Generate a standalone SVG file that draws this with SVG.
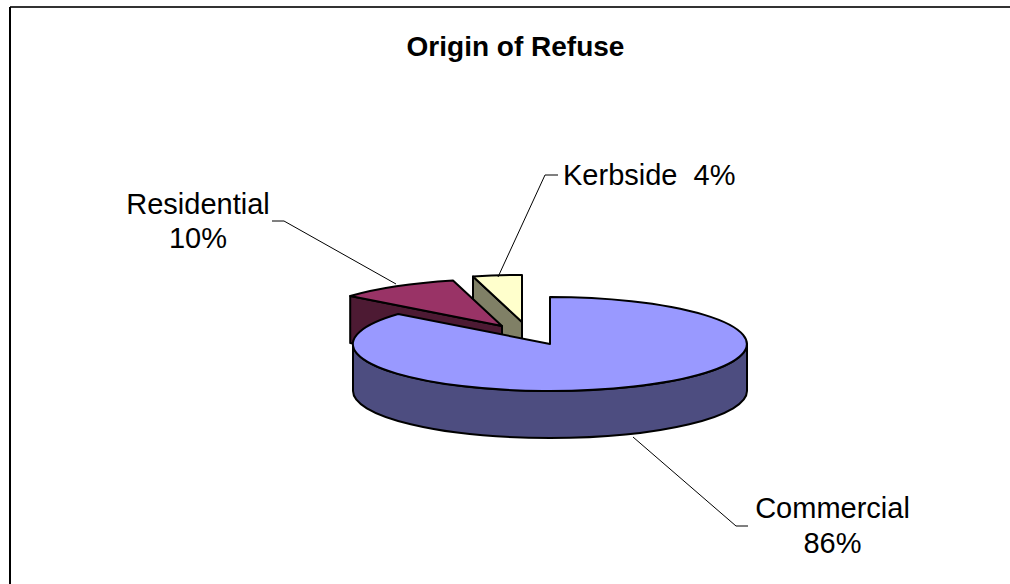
<svg xmlns="http://www.w3.org/2000/svg" width="1010" height="584" viewBox="0 0 1010 584">
<style>
.lbl{font-family:"Liberation Sans",Arial,sans-serif;font-size:29px;fill:#000}
.ttl{font-family:"Liberation Sans",Arial,sans-serif;font-size:28px;font-weight:bold;fill:#000}
.face{stroke:#000;stroke-width:2;stroke-linejoin:round}
.lead{fill:none;stroke:#000;stroke-width:1}
</style>
<rect width="1010" height="584" fill="#fff"/>
<g id="frame">
<line x1="10" y1="7" x2="1010" y2="7" stroke="#333" stroke-width="2"/>
<line x1="10" y1="7" x2="10" y2="584" stroke="#000" stroke-width="2"/>
</g>
<text class="ttl" x="515.5" y="56" text-anchor="middle">Origin of Refuse</text>
<g id="kerbside">
<path class="face" fill="#808066" d="M522,322 L473,276.5 L473,323.5 L522,369 Z"/>
<path class="face" fill="#FFFFCC" d="M522,322 L473,276.5 A197,47 0 0 1 522,275 Z"/>
</g>
<g id="residential">
<path class="face" fill="#4D1A33" d="M502,326 L350.2,296 L350.2,343 L502,373 Z"/>
<path class="face" fill="#993366" d="M502,326 L350.2,296 A197,47 0 0 1 453,280.5 Z"/>
</g>
<g id="commercial">
<path class="face" fill="#4D4D80" d="M747,344 A197,47 0 0 1 353,344 L353,391 A197,47 0 0 0 747,391 Z"/>
<path class="face" fill="#9999FF" d="M550,344 L550,297 A197,47 0 1 1 398.2,314 Z"/>
</g>
<g id="connectors">
<polyline class="lead" points="272,221 284,221 396,284"/>
<polyline class="lead" points="498,277 545,175 558,175"/>
<polyline class="lead" points="633,437 736,526 748,526"/>
</g>
<g id="labels">
<text class="lbl" x="198" y="214" text-anchor="middle">Residential</text>
<text class="lbl" x="198" y="248" text-anchor="middle">10%</text>
<text class="lbl" x="563" y="185" xml:space="preserve" style="white-space:pre">Kerbside  4%</text>
<text class="lbl" x="832.5" y="518" text-anchor="middle">Commercial</text>
<text class="lbl" x="832.5" y="553" text-anchor="middle">86%</text>
</g>
</svg>
